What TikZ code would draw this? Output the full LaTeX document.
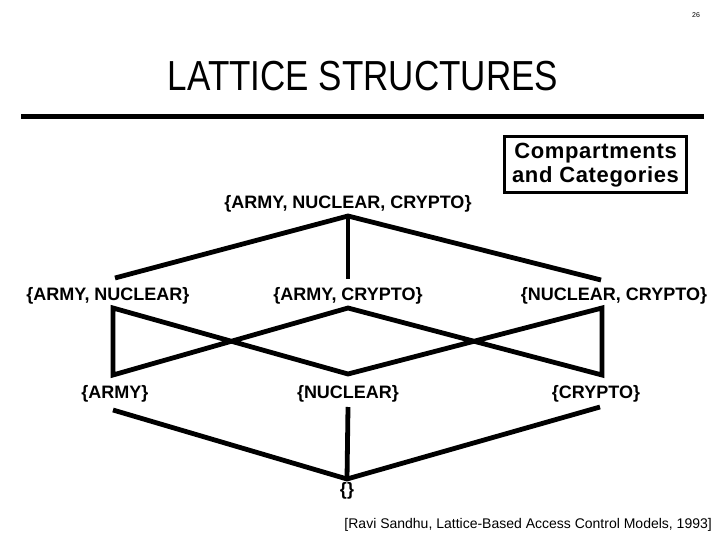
\documentclass[tikz,border=0pt]{standalone}
\usepackage{fontspec}
\setmainfont{Liberation Sans}
\begin{document}
\begin{tikzpicture}[x=1pt,y=-1pt,
  lbl/.style={font=\bfseries\fontsize{18}{18}\selectfont, anchor=base, inner sep=0pt},
  edge/.style={line width=4.8pt, line join=miter, line cap=butt}]
\useasboundingbox (0,0) rectangle (720,540);
% page number and title
\node[font=\fontsize{7}{7}\selectfont, anchor=base, inner sep=0pt] (pg) at (696,18) {26};
\node[font=\fontsize{35}{35}\selectfont, anchor=base, inner sep=0pt] (title) at (363,91) {\scalebox{1}[1.2]{LATTICE STRUCTURES}};
\draw[line width=5pt] (21,117) -- (704,117);
% box
\node[draw, line width=3pt, minimum width=182pt, minimum height=56pt, inner sep=0pt, align=center,
      font=\bfseries\fontsize{22}{24}\selectfont\addfontfeature{LetterSpace=3}] (cc) at (595.5,165) {Compartments\\and Categories};
% labels
\node[lbl] (anc) at (348,209) {\{ARMY, NUCLEAR, CRYPTO\}};
\node[lbl] (an) at (108,300) {\{ARMY, NUCLEAR\}};
\node[lbl] (ac) at (348,300) {\{ARMY, CRYPTO\}};
\node[lbl] (nc) at (614,300) {\{NUCLEAR, CRYPTO\}};
\node[lbl] (a) at (115,398) {\{ARMY\}};
\node[lbl] (n) at (348,398) {\{NUCLEAR\}};
\node[lbl] (c) at (596,398) {\{CRYPTO\}};
\node[lbl] (e) at (347,495) {\{\}};
\node[font=\fontsize{14}{14}\selectfont, anchor=base east, inner sep=0pt] (cite) at (712,528) {[Ravi Sandhu, Lattice-Based Access Control Models, 1993]};
% connector end points
\coordinate (anc-b) at (348,216);
\coordinate (an-t) at (115,278); \coordinate (an-b) at (113,308);
\coordinate (ac-t) at (348,279); \coordinate (ac-b) at (348,308);
\coordinate (nc-t) at (601,280); \coordinate (nc-b) at (602,308);
\coordinate (a-t) at (113,375); \coordinate (a-b) at (113,410);
\coordinate (n-t) at (348,374); \coordinate (n-b) at (348,407);
\coordinate (c-t) at (602,375); \coordinate (c-b) at (600,407);
\coordinate (e-t) at (347,479);
% connectors
\draw[edge] (an-t) -- (anc-b) -- (nc-t);
\draw[edge] (anc-b) -- (ac-t);
\draw[edge] (an-b) -- (a-t) -- (ac-b) -- (c-t) -- (nc-b) -- (n-t) -- cycle;
\draw[edge] (a-b) -- (e-t) -- (c-b);
\draw[edge] (n-b) -- (e-t);
\end{tikzpicture}
\end{document}
